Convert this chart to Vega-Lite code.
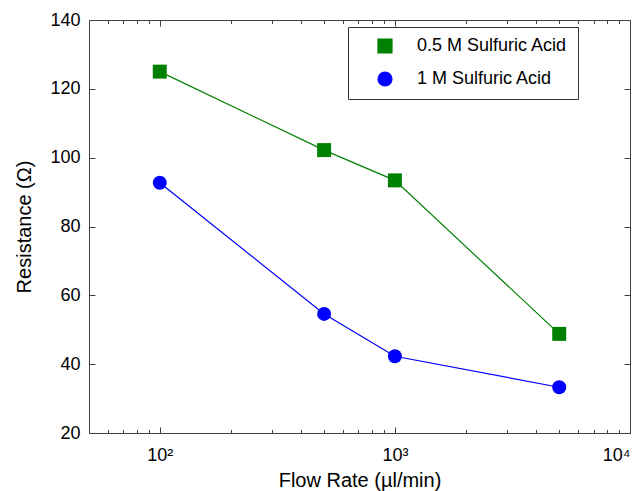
{
  "$schema": "https://vega.github.io/schema/vega-lite/v6.json",
  "autosize": "none",
  "width": 541,
  "height": 413,
  "padding": {"left": 89, "top": 20, "right": 12, "bottom": 58},
  "background": "white",
  "config": {
    "font": "Liberation Sans",
    "view": {"stroke": null},
    "axis": {"grid": false, "domainColor": "#404040", "tickColor": "#404040", "labelColor": "black", "titleColor": "black", "labelFont": "Liberation Sans", "titleFont": "Liberation Sans", "titleFontWeight": "normal"}
  },
  "data": {
    "values": [
      {"flow": 100, "res": 125.0, "series": "0.5 M Sulfuric Acid"},
      {"flow": 500, "res": 102.2, "series": "0.5 M Sulfuric Acid"},
      {"flow": 1000, "res": 93.4, "series": "0.5 M Sulfuric Acid"},
      {"flow": 5000, "res": 48.8, "series": "0.5 M Sulfuric Acid"},
      {"flow": 100, "res": 92.7, "series": "1 M Sulfuric Acid"},
      {"flow": 500, "res": 54.6, "series": "1 M Sulfuric Acid"},
      {"flow": 1000, "res": 42.3, "series": "1 M Sulfuric Acid"},
      {"flow": 5000, "res": 33.3, "series": "1 M Sulfuric Acid"}
    ]
  },
  "resolve": {"axis": {"x": "independent", "y": "independent"}},
  "layer": [
    {
      "mark": {"type": "line", "strokeWidth": 1.2},
      "encoding": {
        "x": {"field": "flow", "type": "quantitative", "scale": {"type": "log", "domain": [50, 10000], "nice": false},
          "axis": {"orient": "bottom", "values": [100, 1000, 10000], "tickSize": -6, "labelPadding": 19, "labelFontSize": 18, "labelDx": 4, "labelExpr": "datum.value == 100 ? '10²' : datum.value == 1000 ? '10³' : '10⁴'", "title": "Flow Rate (µl/min)", "titleFontSize": 20, "titlePadding": 6, "labelFlush": true, "labelOverlap": false}},
        "y": {"field": "res", "type": "quantitative", "scale": {"domain": [20, 140], "nice": false},
          "axis": {"orient": "left", "values": [20, 40, 60, 80, 100, 120, 140], "tickSize": -6, "labelPadding": 15, "labelFontSize": 18, "title": "Resistance (Ω)", "titleFontSize": 20, "titlePadding": 15, "labelFlush": false}},
        "color": {"field": "series", "type": "nominal", "scale": {"domain": ["0.5 M Sulfuric Acid", "1 M Sulfuric Acid"], "range": ["#008000", "#0000ff"]},
          "legend": {"title": null, "orient": "none", "legendX": 259, "legendY": 7, "strokeColor": "#333333", "fillColor": "white", "padding": 10, "symbolOffset": 18, "labelOffset": 23, "rowPadding": 13, "labelFontSize": 18, "labelFont": "Liberation Sans", "labelColor": "black", "symbolSize": 196, "symbolStrokeWidth": 1.2, "symbolOpacity": 1}}
      }
    },
    {
      "mark": {"type": "point", "filled": true, "opacity": 1, "size": 195},
      "encoding": {
        "x": {"field": "flow", "type": "quantitative", "axis": {"orient": "top", "values": [100, 1000, 10000], "tickSize": -6, "labels": false, "title": null}},
        "y": {"field": "res", "type": "quantitative", "axis": {"orient": "right", "values": [20, 40, 60, 80, 100, 120, 140], "tickSize": -6, "labels": false, "title": null}},
        "color": {"field": "series", "type": "nominal",
          "legend": {"title": null, "orient": "none", "legendX": 259, "legendY": 7, "strokeColor": "#333333", "fillColor": "white", "padding": 10, "symbolOffset": 18, "labelOffset": 23, "rowPadding": 13, "labelFontSize": 18, "labelFont": "Liberation Sans", "labelColor": "black", "symbolSize": 196, "symbolStrokeWidth": 1.2, "symbolOpacity": 1}},
        "shape": {"field": "series", "type": "nominal", "scale": {"domain": ["0.5 M Sulfuric Acid", "1 M Sulfuric Acid"], "range": ["square", "circle"]},
          "legend": {"title": null, "orient": "none", "legendX": 259, "legendY": 7, "strokeColor": "#333333", "fillColor": "white", "padding": 10, "symbolOffset": 18, "labelOffset": 23, "rowPadding": 13, "labelFontSize": 18, "labelFont": "Liberation Sans", "labelColor": "black", "symbolSize": 196, "symbolStrokeWidth": 1.2, "symbolOpacity": 1}}
      }
    },
    {
      "mark": {"type": "point", "opacity": 0},
      "encoding": {
        "x": {"field": "flow", "type": "quantitative", "axis": {"orient": "bottom", "values": [60, 70, 80, 90, 200, 300, 400, 500, 600, 700, 800, 900, 2000, 3000, 4000, 5000, 6000, 7000, 8000, 9000], "tickSize": -3.5, "labels": false, "domain": false, "title": null}},
        "y": {"field": "res", "type": "quantitative", "axis": null}
      }
    },
    {
      "mark": {"type": "point", "opacity": 0},
      "encoding": {
        "x": {"field": "flow", "type": "quantitative", "axis": {"orient": "top", "values": [60, 70, 80, 90, 200, 300, 400, 500, 600, 700, 800, 900, 2000, 3000, 4000, 5000, 6000, 7000, 8000, 9000], "tickSize": -3.5, "labels": false, "domain": false, "title": null}},
        "y": {"field": "res", "type": "quantitative", "axis": null}
      }
    }
  ]
}
